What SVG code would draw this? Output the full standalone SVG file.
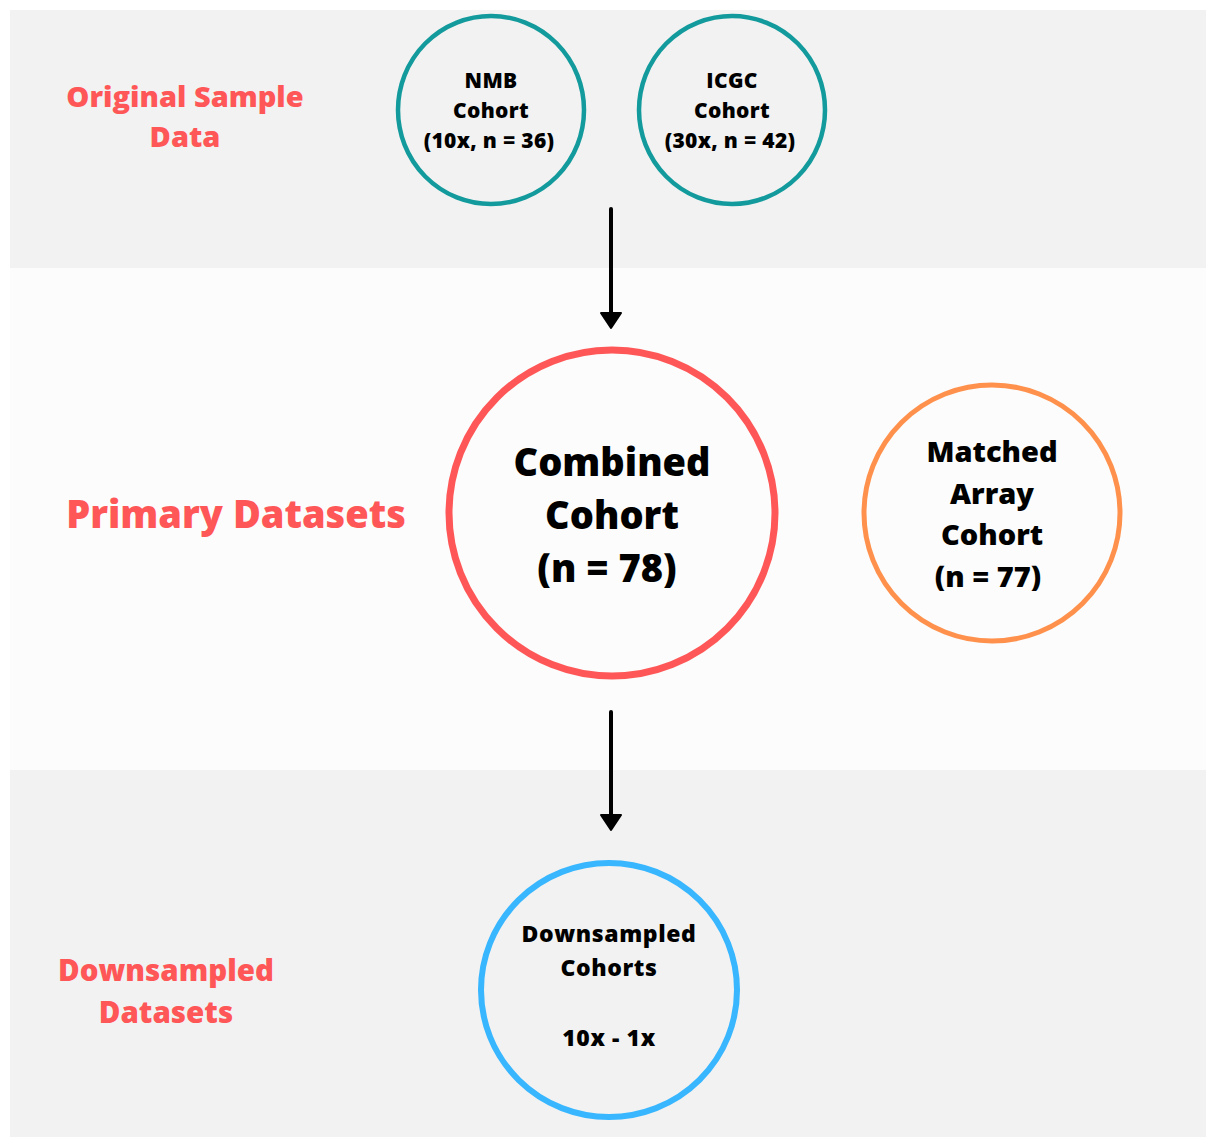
<svg xmlns="http://www.w3.org/2000/svg" width="1206" height="1137" viewBox="0 0 1206 1137">
<defs>
<style>
.band{fill:#f2f2f2}
.mid{fill:#fbfcfb}
.lbl{font-family:"Open Sans","Liberation Sans",sans-serif;font-weight:800;fill:#ff5757;text-anchor:middle}
.nt{font-family:"Open Sans","Liberation Sans",sans-serif;font-weight:800;fill:#000;text-anchor:middle}
.conn{stroke:#000;stroke-width:4;stroke-linecap:round;fill:none}
</style>
</defs>
<rect x="0" y="0" width="1206" height="1137" fill="#ffffff"/>
<rect class="band" x="10" y="10" width="1196" height="258"/>
<rect class="mid" x="10" y="268" width="1196" height="502"/>
<rect class="band" x="10" y="770" width="1196" height="367"/>

<g id="label-original">
<text class="lbl" font-size="29" x="185" y="107">Original Sample</text>
<text class="lbl" font-size="29" x="185" y="147">Data</text>
</g>
<g id="label-primary">
<text class="lbl" font-size="38" x="236" y="528">Primary Datasets</text>
</g>
<g id="label-downsampled">
<text class="lbl" font-size="29.5" x="166" y="981">Downsampled</text>
<text class="lbl" font-size="29.5" x="166" y="1023">Datasets</text>
</g>

<g id="connectors">
<line class="conn" x1="611" y1="209" x2="611" y2="314"/>
<path d="M601,313 L621,313 L611,328 Z" fill="#000" stroke="#000" stroke-width="2" stroke-linejoin="round"/>
<line class="conn" x1="611" y1="712" x2="611" y2="816"/>
<path d="M601,815 L621,815 L611,830 Z" fill="#000" stroke="#000" stroke-width="2" stroke-linejoin="round"/>
</g>

<g id="nmb">
<ellipse cx="491" cy="110" rx="93" ry="94" fill="none" stroke="#139a9c" stroke-width="4.5"/>
<text class="nt" font-size="21" letter-spacing="0.3" x="491" y="88">NMB</text>
<text class="nt" font-size="21" letter-spacing="0.3" x="491" y="118">Cohort</text>
<text class="nt" font-size="21" letter-spacing="0.3" x="489" y="148">(10x, n = 36)</text>
</g>
<g id="icgc">
<ellipse cx="732" cy="110" rx="93" ry="94" fill="none" stroke="#139a9c" stroke-width="4.5"/>
<text class="nt" font-size="21" letter-spacing="0.3" x="732" y="88">ICGC</text>
<text class="nt" font-size="21" letter-spacing="0.3" x="732" y="118">Cohort</text>
<text class="nt" font-size="21" letter-spacing="0.3" x="730" y="148">(30x, n = 42)</text>
</g>
<g id="combined">
<circle cx="612" cy="513" r="163" fill="none" stroke="#ff5757" stroke-width="7"/>
<text class="nt" font-size="38" x="612" y="476">Combined</text>
<text class="nt" font-size="38" x="612" y="529">Cohort</text>
<text class="nt" font-size="38" x="607" y="582">(n = 78)</text>
</g>
<g id="matched">
<circle cx="992" cy="513" r="128" fill="none" stroke="#ff914d" stroke-width="5"/>
<text class="nt" font-size="29" x="992" y="462">Matched</text>
<text class="nt" font-size="29" x="992" y="504">Array</text>
<text class="nt" font-size="29" x="992" y="545">Cohort</text>
<text class="nt" font-size="29" x="988" y="587">(n = 77)</text>
</g>
<g id="downsampled">
<ellipse cx="609" cy="990" rx="128" ry="127" fill="none" stroke="#38b6ff" stroke-width="6"/>
<text class="nt" font-size="23" letter-spacing="0.6" x="609" y="942">Downsampled</text>
<text class="nt" font-size="23" letter-spacing="0.6" x="609" y="976">Cohorts</text>
<text class="nt" font-size="23" letter-spacing="0.6" x="609" y="1046">10x - 1x</text>
</g>
</svg>
